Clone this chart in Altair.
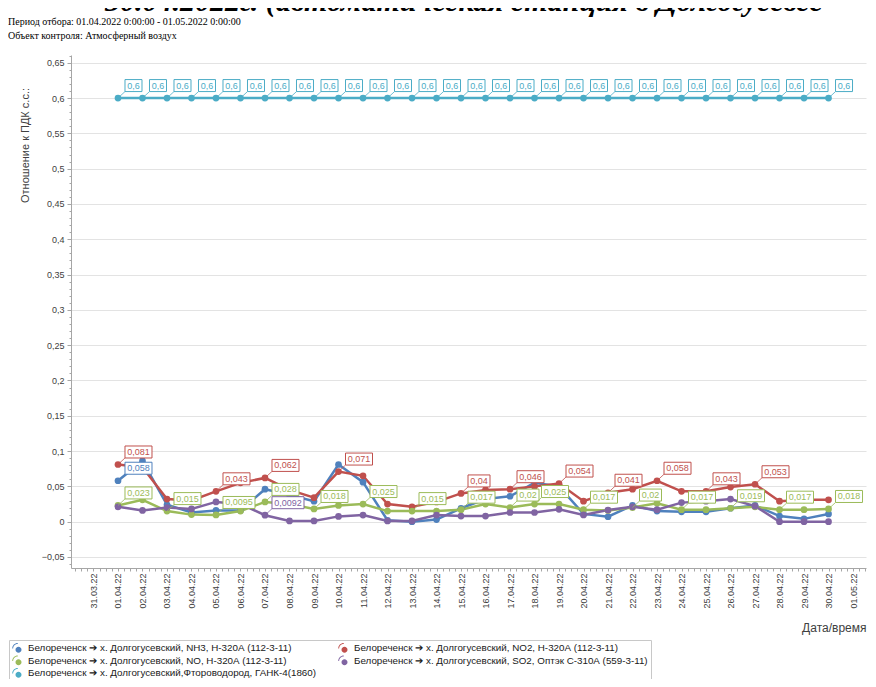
import altair as alt
import pandas as pd

# ---------------- data ----------------
dates = [
    "2022-04-01", "2022-04-02", "2022-04-03", "2022-04-04", "2022-04-05",
    "2022-04-06", "2022-04-07", "2022-04-08", "2022-04-09", "2022-04-10",
    "2022-04-11", "2022-04-12", "2022-04-13", "2022-04-14", "2022-04-15",
    "2022-04-16", "2022-04-17", "2022-04-18", "2022-04-19", "2022-04-20",
    "2022-04-21", "2022-04-22", "2022-04-23", "2022-04-24", "2022-04-25",
    "2022-04-26", "2022-04-27", "2022-04-28", "2022-04-29", "2022-04-30",
]

series_names = [
    "Белореченск ➔ х. Долгогусевский, NH3, Н-320А (112-3-11)",
    "Белореченск ➔ х. Долгогусевский, NO2, Н-320А (112-3-11)",
    "Белореченск ➔ х. Долгогусевский, NO, Н-320А (112-3-11)",
    "Белореченск ➔ х. Долгогусевский, SO2, Оптэк С-310А (559-3-11)",
    "Белореченск ➔ х. Долгогусевский,Фтороводород, ГАНК-4(1860)",
]
colors = ["#4F81BD", "#C0504D", "#9BBB59", "#8064A2", "#4BACC6"]

nh3 = [0.058, 0.086, 0.024, 0.013, 0.016, 0.016, 0.046, 0.038, 0.029, 0.081,
       0.056, 0.002, 0.0, 0.003, 0.019, 0.032, 0.036, 0.055, 0.05, 0.011,
       0.007, 0.023, 0.015, 0.014, 0.014, 0.019, 0.023, 0.008, 0.004, 0.011]
no2 = [0.081, 0.077, 0.032, 0.03, 0.043, 0.055, 0.062, 0.045, 0.034, 0.071,
       0.065, 0.025, 0.021, 0.028, 0.04, 0.045, 0.046, 0.05, 0.054, 0.029,
       0.041, 0.046, 0.058, 0.043, 0.043, 0.049, 0.053, 0.029, 0.031, 0.031]
no = [0.023, 0.031, 0.015, 0.01, 0.0095, 0.015, 0.028, 0.025, 0.018, 0.023,
      0.025, 0.015, 0.015, 0.015, 0.017, 0.025, 0.02, 0.025, 0.025, 0.017,
      0.016, 0.02, 0.026, 0.017, 0.017, 0.019, 0.021, 0.017, 0.017, 0.018]
so2 = [0.021, 0.016, 0.02, 0.018, 0.028, 0.025, 0.0092, 0.001, 0.001, 0.0075,
       0.0094, 0.001, 0.001, 0.0094, 0.008, 0.008, 0.013, 0.013, 0.0175, 0.0095,
       0.0165, 0.021, 0.017, 0.027, 0.029, 0.032, 0.022, 0.0, 0.0, 0.0]
hf = [0.6, 0.6, 0.6, 0.6, 0.6, 0.6, 0.6, 0.6, 0.6, 0.6,
      0.6, 0.6, 0.6, 0.6, 0.6, 0.6, 0.6, 0.6, 0.6, 0.6,
      0.6, 0.6, 0.6, 0.6, 0.6, 0.6, 0.6, 0.6, 0.6, 0.6]

# days (1-based) whose value label is shown
labels_nh3 = [1]
labels_no2 = [1, 5, 7, 10, 15, 17, 19, 21, 23, 25, 27]
labels_no = [1, 3, 5, 7, 9, 11, 13, 15, 17, 18, 20, 22, 24, 26, 28, 30]
labels_so2 = [7]
labels_hf = list(range(1, 31))

title_text = "30.04.2022г. (автоматическая станция в Долгогусевсе"
period_text = "Период отбора: 01.04.2022 0:00:00 - 01.05.2022 0:00:00"
object_text = "Объект контроля: Атмосферный воздух"
y_title = "Отношение к ПДК с.с.:"
x_title = "Дата/время"

# ---------------- table ----------------
rows = []
for name, vals, labs in zip(series_names, [nh3, no2, no, so2, hf],
                            [labels_nh3, labels_no2, labels_no, labels_so2, labels_hf]):
    for i, (d, v) in enumerate(zip(dates, vals)):
        txt = str(v).replace(".", ",")
        rows.append({"date": d, "value": v, "series": name,
                     "lab": 1 if (i + 1) in labs else 0,
                     "text": txt, "n": len(txt)})
df = pd.DataFrame(rows)

FONT = "Liberation Sans"
major_test = "abs(round(datum.value*100)) % 5 == 0"

# axis tick positions: every 6 h (ms, UTC) and every 0.01 on y
T0 = 1648598400000  # 2022-03-30T00:00Z
x_tick_values = [T0 + k * 6 * 3600 * 1000 for k in range(1, 131)]
y_tick_values = [round(i * 0.01, 2) for i in range(-6, 67)]

x_scale = alt.Scale(type="utc", domain=[1648605480000, 1651408980000], nice=False)
y_scale = alt.Scale(domain=[-0.0656, 0.661], nice=False, zero=False)

x_enc = alt.X(
    "date:T", scale=x_scale,
    axis=alt.Axis(
        title=x_title, values=x_tick_values, tickCount=1000,
        labelExpr="utchours(datum.value) == 0 ? utcFormat(datum.value, '%d.%m.%y') : ''",
        labelAngle=270, labelAlign="right", labelBaseline="middle",
        labelOverlap=False, labelBound=False, labelFont=FONT, labelFontSize=9,
        labelColor="#404040", labelPadding=2, tickSize=3, tickColor="#a6a6a6",
        domainColor="#a6a6a6", grid=False,
        titleFont=FONT, titleFontSize=12, titleFontWeight="normal", titleColor="#404040",
        titleAlign="right", titleBaseline="middle", titleAngle=0, titleX=795, titleY=59,
    ),
)
y_enc = alt.Y(
    "value:Q", scale=y_scale,
    axis=alt.Axis(
        title=y_title, values=y_tick_values, tickCount=1000,
        labelExpr=f"{major_test} ? replace(format(datum.value, '.2~f'), '.', ',') : ''",
        labelOverlap=False, labelFont=FONT, labelFontSize=9, labelColor="#404040",
        labelPadding=3,
        tickSize={"condition": {"test": major_test, "value": 4}, "value": 2},
        tickColor="#a6a6a6", domainColor="#a6a6a6",
        grid=True, gridColor="#e3e3e3", gridWidth=1,
        gridOpacity={"condition": {"test": major_test, "value": 1}, "value": 0},
        titleFont=FONT, titleFontSize=11, titleFontWeight="normal", titleColor="#404040",
        titleAngle=270, titleAlign="center", titleBaseline="middle", titleX=-46, titleY=90,
    ),
)

legend_symbol = ("M -0.95 0.1 A 1.1 1.1 0 0 1 0.15 -1 L 0.15 -0.82 "
                 "A 0.92 0.92 0 0 0 -0.77 0.1 Z "
                 "M 0.9 0.35 A 0.6 0.6 0 1 1 -0.3 0.35 A 0.6 0.6 0 1 1 0.9 0.35 Z")

color_scale = alt.Scale(domain=series_names, range=colors)
legend = alt.Legend(
    title=None, orient="none", legendX=-62, legendY=585, columns=2, direction="horizontal",
    strokeColor="#c8c8c8", fillColor="white", padding=3,
    symbolType=legend_symbol, symbolSize=100, symbolStrokeWidth=0,
    labelFont=FONT, labelFontSize=9.8, labelColor="#202020", labelLimit=500,
    labelOffset=6, rowPadding=2.5, columnPadding=22,
)
color_enc = alt.Color("series:N", scale=color_scale, legend=legend)

base = alt.Chart(df)

lines = base.mark_line(strokeWidth=2.5).encode(x=x_enc, y=y_enc, color=color_enc, detail="series:N")
points = base.mark_circle(size=45, opacity=1).encode(x=alt.X("date:T"), y=alt.Y("value:Q"), color=color_enc)

label_layers = []
for n in sorted(df.loc[df["lab"] == 1, "n"].unique()):
    w = 5 * int(n) + 2
    sub = base.transform_filter(f"datum.lab == 1 && datum.n == {int(n)}")
    leader = sub.mark_rule(strokeWidth=0.8, x2Offset=7, y2Offset=-6.5).encode(
        x="date:T", x2="date:T", y="value:Q", y2="value:Q", color=color_enc)
    box_bg = sub.mark_rect(fill="white", xOffset=7, x2Offset=7 + w,
                           yOffset=-18.5, y2Offset=-6.5).encode(
        x="date:T", x2="date:T", y="value:Q", y2="value:Q")
    box = sub.mark_rect(filled=False, strokeWidth=1, xOffset=7, x2Offset=7 + w,
                        yOffset=-18.5, y2Offset=-6.5).encode(
        x="date:T", x2="date:T", y="value:Q", y2="value:Q", color=color_enc)
    txt = sub.mark_text(font=FONT, fontSize=9, align="center", baseline="middle",
                        dx=7 + w / 2, dy=-12.5).encode(
        x="date:T", y="value:Q", text="text:N", color=color_enc)
    label_layers += [leader, box_bg, box, txt]

title_layer = alt.Chart(pd.DataFrame({"t": [title_text]})).mark_text(
    font="Liberation Serif", fontSize=30, fontStyle="italic", fontWeight="bold",
    align="left", baseline="alphabetic", color="black"
).encode(x=alt.value(34), y=alt.value(-44), text="t:N")
period_layer = alt.Chart(pd.DataFrame({"t": [period_text]})).mark_text(
    font="Liberation Serif", fontSize=10, align="left", baseline="alphabetic", color="black"
).encode(x=alt.value(-63), y=alt.value(-30), text="t:N")
object_layer = alt.Chart(pd.DataFrame({"t": [object_text]})).mark_text(
    font="Liberation Serif", fontSize=10, align="left", baseline="alphabetic", color="black"
).encode(x=alt.value(-63), y=alt.value(-16), text="t:N")

chart = alt.layer(lines, points, *label_layers, title_layer, period_layer, object_layer).properties(
    width=795, height=513,
    autosize=alt.AutoSizeParams(type="none"),
    padding={"left": 63, "top": 47, "right": 2, "bottom": 111},
    background="white",
).configure_view(strokeWidth=0)

chart.save("out.html", embed_options={"renderer": "svg", "actions": False})
